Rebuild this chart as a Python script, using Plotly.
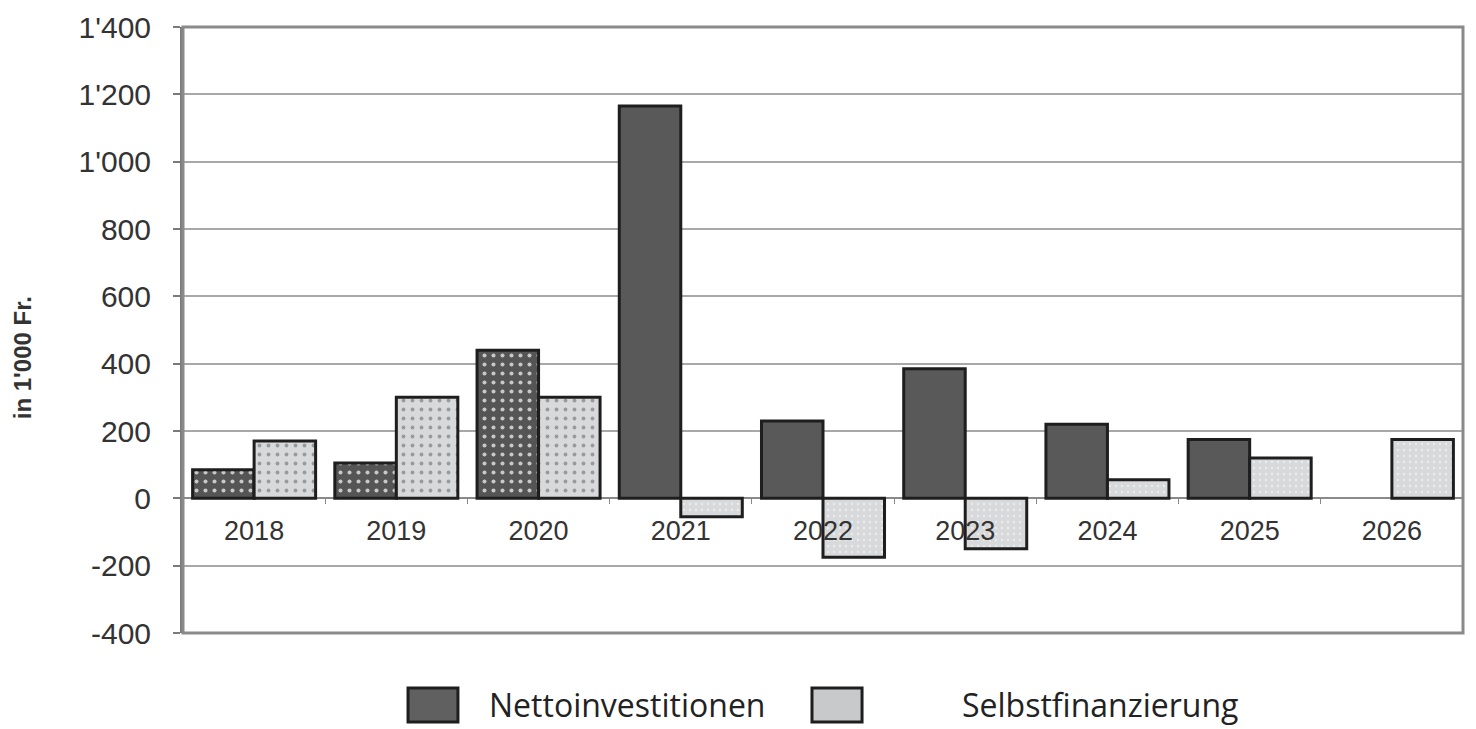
import plotly.graph_objects as go

years = ["2018", "2019", "2020", "2021", "2022", "2023", "2024", "2025", "2026"]
netto = [85, 105, 440, 1165, 230, 385, 220, 175, None]
selbst = [170, 300, 300, -55, -175, -150, 55, 120, 175]
y_ticks = [-400, -200, 0, 200, 400, 600, 800, 1000, 1200, 1400]
legend_names = ["Nettoinvestitionen", "Selbstfinanzierung"]
y_title = "in 1'000 Fr."

y_ticktext = [f"{v:,}".replace(",", "'") for v in y_ticks]
dotted = ["." if int(y) <= 2020 else "" for y in years]
fine = ["." for y in years]

fig = go.Figure()
fig.add_trace(go.Bar(
    x=years, y=netto, name=legend_names[0],
    marker=dict(
        color="#595959",
        line=dict(color="#1e1e1e", width=3),
        pattern=dict(
            shape=dotted,
            fgcolor="#c8c8c8",
            bgcolor="#555555",
            size=9, solidity=0.16, fillmode="replace",
        ),
    ),
))
fig.add_trace(go.Bar(
    x=years, y=selbst, name=legend_names[1],
    marker=dict(
        color="#d6d7d9",
        line=dict(color="#1e1e1e", width=3),
        pattern=dict(
            shape=fine,
            fgcolor=["#9a9a9a" if int(y) <= 2020 else "#ebebeb" for y in years],
            bgcolor="#d8d9db",
            size=[9 if int(y) <= 2020 else 6 for y in years],
            solidity=0.14, fillmode="replace",
        ),
    ),
))

ymin, ymax = -400, 1400
fig.update_layout(
    width=1468, height=721,
    margin=dict(l=175, r=13, t=19, b=96),
    paper_bgcolor="white", plot_bgcolor="white",
    barmode="group", bargap=0.135, bargroupgap=0,
    showlegend=False,
    font=dict(family="Liberation Sans, Arial", color="#333333"),
    xaxis=dict(
        type="category",
        anchor="free",
        position=(0 - ymin) / (ymax - ymin),
        automargin=False,
        showline=False,
        showgrid=False,
        ticks="outside", ticklen=5, tickcolor="#888888", tickwidth=1,
        tickson="boundaries",
        tickfont=dict(size=27, color="#333333"),
        ticklabelstandoff=14,
    ),
    yaxis=dict(
        range=[ymin, ymax],
        automargin=False,
        tickvals=y_ticks,
        ticktext=y_ticktext,
        showgrid=True, gridcolor="#a8a8a8", gridwidth=2,
        zeroline=True, zerolinecolor="#8a8a8a", zerolinewidth=2,
        showline=True, linecolor="#7a7a7a", linewidth=3,
        ticks="outside", ticklen=7, tickcolor="#7a7a7a", tickwidth=2,
        tickfont=dict(size=30, color="#333333"),
        ticklabelstandoff=16,
    ),
)

# plot frame
fig.add_shape(type="rect", xref="paper", yref="paper", x0=0, x1=1, y0=0, y1=1,
              line=dict(color="#8a8a8a", width=3), fillcolor="rgba(0,0,0,0)", layer="above")

# y-axis title
fig.add_annotation(text="<b>" + y_title + "</b>", xref="paper", yref="paper",
                   x=-0.1258, y=0.455, textangle=-90, showarrow=False,
                   xanchor="center", yanchor="middle",
                   font=dict(size=24, color="#333333", family="Liberation Sans, Arial"))

# custom legend
leg_colors = ["#606060", "#c8c9cb"]
leg_boxes = [(0.1758, 0.2148), (0.4914, 0.5305)]
leg_text_x = [0.2375, 0.607]
for name, col, (x0, x1), tx in zip(legend_names, leg_colors, leg_boxes, leg_text_x):
    fig.add_shape(type="rect", xref="paper", yref="paper", x0=x0, x1=x1,
                  y0=-0.1469, y1=-0.0908, fillcolor=col,
                  line=dict(color="#1e1e1e", width=3))
    fig.add_annotation(text=name, xref="paper", yref="paper", x=tx, y=-0.1188,
                       xanchor="left", yanchor="middle", showarrow=False,
                       font=dict(size=32, color="#222222", family="Open Sans"))

fig.write_html("out.html")
